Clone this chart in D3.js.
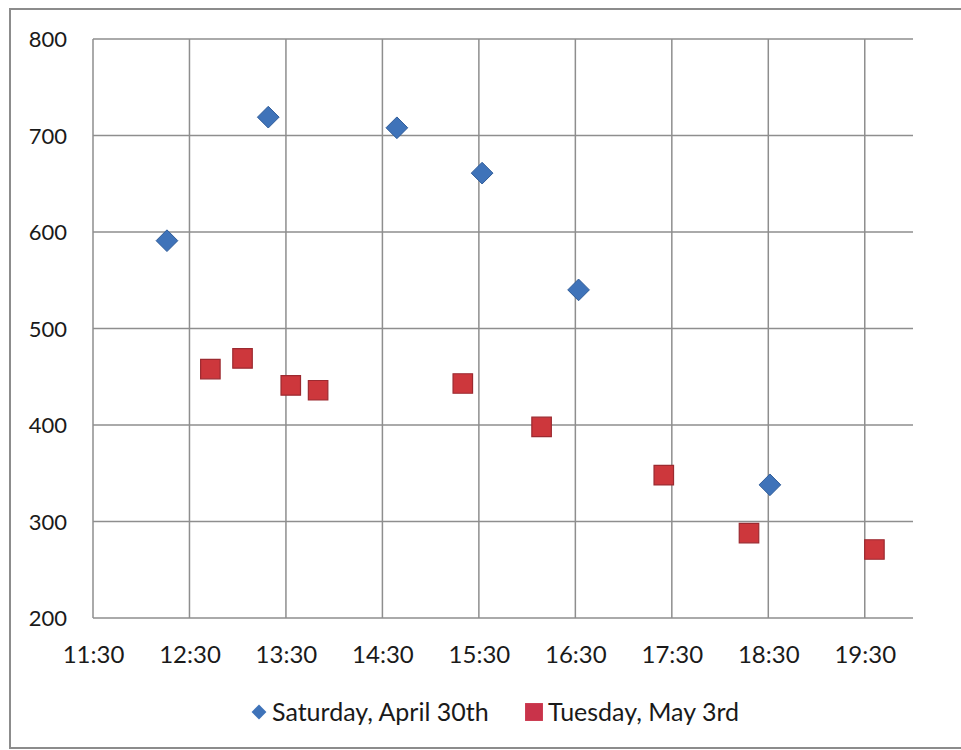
<!DOCTYPE html>
<html>
<head>
<meta charset="utf-8">
<script src="https://cdn.jsdelivr.net/npm/d3@7"></script>
<style>
  html, body { margin: 0; padding: 0; background: #fff; }
  svg { display: block; }
  text { font-family: Lato, "Open Sans", sans-serif; fill: #1a1a1a; }
</style>
</head>
<body>
<svg id="chart" width="961" height="750"></svg>
<script>
// ---- data ----
const xTickLabels = ["11:30","12:30","13:30","14:30","15:30","16:30","17:30","18:30","19:30"];
const yTickValues = [200, 300, 400, 500, 600, 700, 800];

const seriesNames = ["Saturday, April 30th", "Tuesday, May 3rd"];

const saturdayTimes  = ["12:16","13:19","14:39","15:32","16:32","18:31"];
const saturdayValues = [591, 719, 708, 661, 540, 338];

const tuesdayTimes  = ["12:43","13:03","13:33","13:50","15:20","16:09","17:25","18:18","19:36"];
const tuesdayValues = [458, 469, 441, 436, 443, 398, 348, 288, 271];

// ---- helpers ----
const toHours = s => { const [h, m] = s.split(":").map(Number); return h + m / 60; };

const svg = d3.select("#chart");

// outer border
svg.append("rect")
  .attr("x", 10).attr("y", 9).attr("width", 960).attr("height", 739)
  .attr("fill", "#fff").attr("stroke", "#8c8c8c").attr("stroke-width", 2);

const plot = { left: 93, right: 913, top: 39, bottom: 618 };

const x = d3.scaleLinear().domain([11.5, 20]).range([plot.left, plot.right]);
const y = d3.scaleLinear().domain([200, 800]).range([plot.bottom, plot.top]);

const grid = svg.append("g");
grid.selectAll("line.h").data(yTickValues).enter().append("line")
  .attr("x1", plot.left).attr("x2", plot.right)
  .attr("y1", d => y(d)).attr("y2", d => y(d))
  .attr("stroke", "#8e8e8e").attr("stroke-width", 1.5);
grid.selectAll("line.v").data(xTickLabels).enter().append("line")
  .attr("x1", d => x(toHours(d))).attr("x2", d => x(toHours(d)))
  .attr("y1", plot.top).attr("y2", plot.bottom)
  .attr("stroke", "#8e8e8e").attr("stroke-width", 1.5);

// y axis labels
const yAxis = d3.axisLeft(y).tickValues(yTickValues).tickSize(0).tickPadding(0);
const gy = svg.append("g").attr("transform", `translate(67,0)`).call(yAxis);
gy.select(".domain").remove();
gy.selectAll("text").attr("font-size", 22).attr("fill", "#1a1a1a")
  .style("font-family", "Lato, 'Open Sans', sans-serif").attr("dy", "0.35em").attr("x", 0);

// x axis labels
const xAxis = d3.axisBottom(x).tickValues(xTickLabels.map(toHours))
  .tickFormat((d, i) => xTickLabels[i]).tickSize(0).tickPadding(0);
const gx = svg.append("g").attr("transform", `translate(0,655)`).call(xAxis);
gx.select(".domain").remove();
gx.selectAll("text").attr("font-size", 24).attr("fill", "#1a1a1a")
  .style("font-family", "Lato, 'Open Sans', sans-serif").attr("dy", "0.35em").attr("y", 0);

const blue = "#3f73b9", blueStroke = "#2f5c99";
const red = "#cd373c", redStroke = "#9c2a30";

const satData = saturdayTimes.map((t, i) => ({ t: toHours(t), v: saturdayValues[i] }));
const tueData = tuesdayTimes.map((t, i) => ({ t: toHours(t), v: tuesdayValues[i] }));

const diamond = d3.symbol().type(d3.symbolDiamond2).size(300);
const square = d3.symbol().type(d3.symbolSquare).size(380);

svg.append("g").selectAll("path").data(satData).enter().append("path")
  .attr("d", diamond)
  .attr("transform", d => `translate(${x(d.t)},${y(d.v)})`)
  .attr("fill", blue).attr("stroke", blueStroke).attr("stroke-width", 1);

svg.append("g").selectAll("path").data(tueData).enter().append("path")
  .attr("d", square)
  .attr("transform", d => `translate(${x(d.t)},${y(d.v)})`)
  .attr("fill", red).attr("stroke", redStroke).attr("stroke-width", 1.2);

// legend
const leg = svg.append("g");
leg.append("path").attr("d", d3.symbol().type(d3.symbolDiamond2).size(140))
  .attr("transform", "translate(259,712)").attr("fill", blue);
leg.append("text").attr("x", 272).attr("y", 712).attr("dy", "0.35em")
  .attr("font-size", 25).text(seriesNames[0]);
leg.append("path").attr("d", d3.symbol().type(d3.symbolSquare).size(320))
  .attr("transform", "translate(534,712)").attr("fill", "#c9334a");
leg.append("text").attr("x", 548).attr("y", 712).attr("dy", "0.35em")
  .attr("font-size", 25).text(seriesNames[1]);
</script>
</body>
</html>
